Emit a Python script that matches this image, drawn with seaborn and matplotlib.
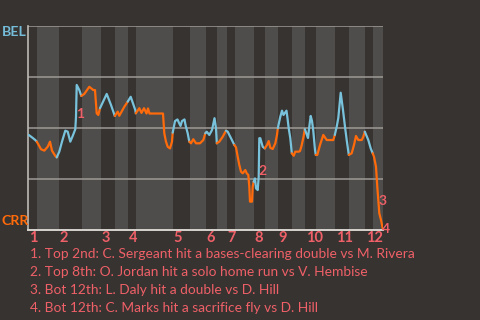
import matplotlib
matplotlib.use("Agg")
import matplotlib.pyplot as plt
import seaborn as sns
import numpy as np
import pandas as pd

# ---- data ----
# game progress position (plate-appearance axis) and BEL win probability
wp_x = [0.7, 4, 7.3, 8.8,
        13, 16.3, 19.7, 22, 24, 27.3, 28.7, 31.3,
        34, 37.3, 39.7, 42.3, 44.7, 47.3, 48, 48.7, 51.3, 53.3,
        56.3, 61.3, 65.3, 67, 68.7, 70.3, 72,
        78.7, 83, 86.8,
        89.7, 91.3, 96.3, 99.7,
        102.7, 107.3, 107.8,
        111.3, 113.5, 116, 118.5, 120, 121.5, 135, 136.3, 138, 139.7, 142, 144, 144.7,
        147, 149.5, 151, 152.5, 154, 156.5, 157.5, 159.7, 161.3,
        163, 165.3, 168, 172, 175.3, 177.3,
        178.7, 181.3, 184, 186.5, 188, 188.8,
        191.3, 194.7, 198,
        199.7, 203, 206.3,
        208, 209.7, 211.3, 213, 214.7, 217.3, 218.7, 220.3, 221.3, 222, 224, 224.7, 225.7,
        227, 228, 229.7, 230.7, 231.3, 232.3, 234.7, 236.8,
        239, 240.7, 242.3, 244.7, 247.3, 249, 249.8,
        252.3, 254, 255.5, 258.5, 259.5, 260.7, 262.3, 263.8,
        265.7, 267.3, 270.7, 272, 273.5, 275.5, 276.8,
        278.5, 280, 281.5, 282.7, 284, 285.3, 287, 287.8,
        289.3, 292, 295.3, 298.7, 305.3, 306.8,
        308.7, 310.3, 312.7, 315, 317, 318.7, 320.8,
        323.7, 326, 328, 330.3, 333.7, 335.3, 336.8,
        340.3, 342.7, 344.7,
        346, 348, 349.3, 350.3, 351.3, 353, 354.7]
wp_bel = [0.466, 0.454, 0.441, 0.433,
          0.396, 0.389, 0.408, 0.433, 0.389, 0.363, 0.356, 0.384,
          0.433, 0.487, 0.482, 0.433, 0.461, 0.494, 0.555, 0.711, 0.686, 0.657,
          0.667, 0.702, 0.686, 0.686, 0.572, 0.564, 0.597,
          0.667, 0.613, 0.559,
          0.580, 0.560, 0.604, 0.629,
          0.653, 0.588, 0.572,
          0.597, 0.574, 0.597, 0.571, 0.596, 0.571, 0.571, 0.474, 0.433, 0.408, 0.400, 0.433, 0.477,
          0.534, 0.542, 0.525, 0.510, 0.534, 0.542, 0.515, 0.474, 0.433,
          0.425, 0.445, 0.425, 0.425, 0.441, 0.474,
          0.482, 0.466, 0.490, 0.548, 0.499, 0.425,
          0.433, 0.457, 0.487,
          0.482, 0.450, 0.417,
          0.405, 0.359, 0.319, 0.286, 0.278, 0.294, 0.278, 0.270, 0.212, 0.139, 0.139, 0.212, 0.237,
          0.253, 0.204, 0.196, 0.261, 0.450, 0.450, 0.408, 0.400,
          0.417, 0.436, 0.403, 0.397, 0.425, 0.466, 0.499,
          0.555, 0.585, 0.564, 0.585, 0.548, 0.499, 0.450, 0.376,
          0.364, 0.384, 0.384, 0.387, 0.412, 0.456, 0.495,
          0.471, 0.451, 0.515, 0.559, 0.534, 0.485, 0.392, 0.368,
          0.368, 0.417, 0.466, 0.441, 0.441, 0.466,
          0.506, 0.549, 0.673, 0.588, 0.506, 0.441, 0.368,
          0.376, 0.417, 0.461, 0.441, 0.441, 0.457, 0.482,
          0.441, 0.400, 0.376,
          0.359, 0.310, 0.212, 0.147, 0.082, 0.049, 0.008]

# half-inning boundaries on the progress axis (top 1, bot 1, top 2, ...)
half_starts = [0, 9, 31, 54, 73, 87, 100, 108, 145, 162, 178, 189, 199, 207,
               226, 237, 250, 264, 277, 288, 307, 321, 337, 345]
game_end = 355
inning_labels = [str(i) for i in range(1, 13)]

teams = ["BEL", "CRR"]
event_labels = ["1", "2", "3", "4"]
event_x = [52.5, 235, 355, 358]
event_wp = [0.569, 0.289, 0.142, 0.005]
event_texts = [
    "1. Top 2nd: C. Sergeant hit a bases-clearing double vs M. Rivera",
    "2. Top 8th: O. Jordan hit a solo home run vs V. Hembise",
    "3. Bot 12th: L. Daly hit a double vs D. Hill",
    "4. Bot 12th: C. Marks hit a sacrifice fly vs D. Hill",
]

# ---- colours ----
BG = "#363330"
BAND = "#4f4d4b"
BLUE = "#79c2dc"
ORANGE = "#ff6a0a"
SALMON = "#ef6068"
GRID = "#9e9a96"
FONT = ["Lato", "DejaVu Sans"]

sns.set_theme(style="dark")
plt.rcParams["font.family"] = FONT

# build segment table: one segment per half inning, joined to previous point
x = np.array(wp_x)
y = np.array(wp_bel)
half = np.searchsorted(np.array(half_starts), x, side="right") - 1
rows = []
for h in range(len(half_starts)):
    idx = np.where(half == h)[0]
    if len(idx) == 0:
        continue
    if idx[0] > 0:
        idx = np.concatenate([[idx[0] - 1], idx])
    for order, i in enumerate(idx):
        rows.append({"seg": h, "order": order, "x": x[i], "wp": y[i]})
df = pd.DataFrame(rows)
palette = {h: (BLUE if h % 2 == 0 else ORANGE) for h in range(len(half_starts))}

fig = plt.figure(figsize=(4.8, 3.2), dpi=100, facecolor=BG)
ax = fig.add_axes([28 / 480, 90 / 320, 355 / 480, 204 / 320])
ax.set_facecolor(BG)

# bottom-half bands
bounds = half_starts + [game_end]
for h in range(1, len(half_starts), 2):
    ax.axvspan(bounds[h], bounds[h + 1], color=BAND, lw=0, zorder=0)

for gy in [0.25, 0.5, 0.75, 1.0]:
    ax.axhline(gy, color=GRID, lw=1.1, zorder=1)

sns.lineplot(data=df, x="x", y="wp", hue="seg", palette=palette, sort=False,
             estimator=None, legend=False, lw=1.6, ax=ax, zorder=3)

ax.set_xlim(0, game_end)
ax.set_ylim(0, 1)
ax.set_xticks([])
ax.set_yticks([])
ax.set_xlabel("")
ax.set_ylabel("")
ax.grid(False)
for s in ["top", "right"]:
    ax.spines[s].set_visible(False)
ax.spines["left"].set_color("#bdb9b5")
ax.spines["left"].set_linewidth(1.2)
ax.spines["bottom"].set_color("#d6d2ce")
ax.spines["bottom"].set_linewidth(1.4)

# team labels
fig.text(2 / 480, 1 - 32 / 320, teams[0], ha="left", va="center",
         color="#74bcd8", fontsize=10.2, fontweight="bold")
fig.text(2 / 480, 1 - 221 / 320, teams[1], ha="left", va="center",
         color=ORANGE, fontsize=10.2, fontweight="bold")

# inning labels
for i, lab in enumerate(inning_labels):
    ax.text(half_starts[2 * i] + 0.6, -0.04, lab, ha="left", va="center",
            color=SALMON, fontsize=10.5, fontweight="bold", clip_on=False)

# event markers
for lab, ex, ey in zip(event_labels, event_x, event_wp):
    ax.text(ex, ey, lab, ha="center", va="center", color=SALMON,
            fontsize=10, fontweight="bold", clip_on=False, zorder=5)

for k, t in enumerate(event_texts):
    fig.text(30 / 480, 1 - (254.5 + 17.7 * k) / 320, t, ha="left", va="center",
             color=SALMON, fontsize=9.9)

fig.savefig("out.png", dpi=100, facecolor=BG)
